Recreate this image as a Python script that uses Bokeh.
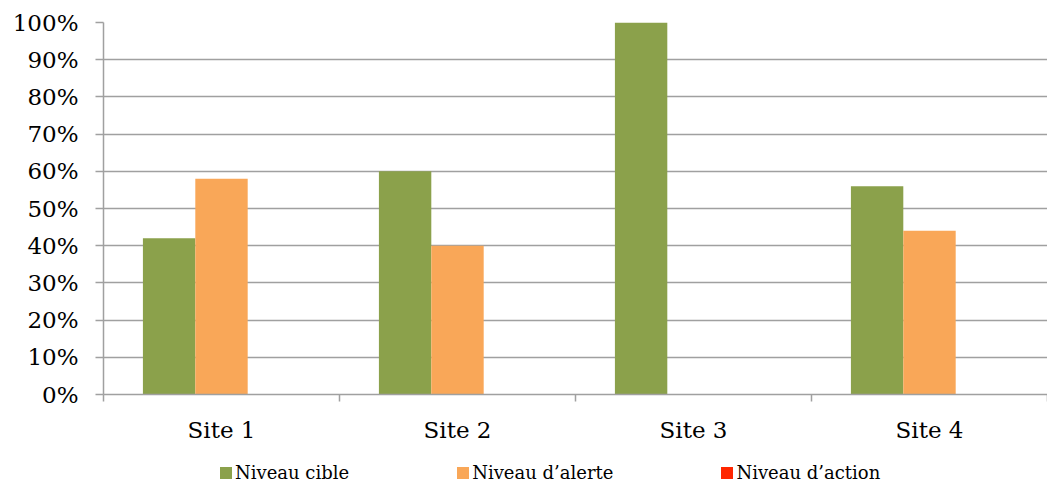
from bokeh.plotting import figure
from bokeh.layouts import column
from bokeh.models import ColumnDataSource, Range1d, FixedTicker, PrintfTickFormatter, Legend, LegendItem
from bokeh.transform import dodge
from bokeh.embed import file_html
from bokeh.resources import INLINE

sites = ["Site 1", "Site 2", "Site 3", "Site 4"]
series = ["Niveau cible", "Niveau d\u2019alerte", "Niveau d\u2019action"]
cible = [42, 60, 100, 56]
alerte = [58, 40, 0, 44]
action = [0, 0, 0, 0]
colors = ["#8BA14B", "#F9A758", "#FF2600"]
y_ticks = [0, 10, 20, 30, 40, 50, 60, 70, 80, 90, 100]

pos = list(range(len(sites)))
src = ColumnDataSource(dict(pos=pos, cible=cible, alerte=alerte, action=action))

p = figure(width=1047, height=446, output_backend="svg", toolbar_location=None,
           x_range=Range1d(-0.5, len(sites) - 0.5), y_range=Range1d(0, 100),
           min_border_top=22, min_border_left=103, min_border_right=0, min_border_bottom=52)
p.outline_line_color = None

bw = 0.222
cols = ["cible", "alerte", "action"]
offs = [-bw, 0, bw]
for c, o, col in zip(cols, offs, colors):
    p.vbar(x=dodge("pos", o), top=c, width=bw, bottom=0, source=src,
           fill_color=col, line_color=None)

# x axis
xa = p.xaxis[0]
xa.ticker = FixedTicker(ticks=pos, minor_ticks=[i - 0.5 for i in range(len(sites) + 1)])
xa.major_label_overrides = {i: s for i, s in zip(pos, sites)}
xa.major_tick_out = 0
xa.major_tick_in = 0
xa.minor_tick_out = 7
xa.minor_tick_in = 0
xa.minor_tick_line_color = "#A0A0A0"
xa.minor_tick_line_width = 1.5
xa.axis_line_color = "#A0A0A0"
xa.axis_line_width = 1.5
xa.major_label_text_font = "DejaVu Serif"
xa.major_label_text_font_size = "23px"
xa.major_label_text_color = "black"
xa.major_label_standoff = 15

# y axis
ya = p.yaxis[0]
ya.ticker = FixedTicker(ticks=y_ticks, minor_ticks=[])
ya.formatter = PrintfTickFormatter(format="%d%%")
ya.major_tick_out = 8
ya.major_tick_in = 0
ya.major_tick_line_color = "#A0A0A0"
ya.major_tick_line_width = 1.5
ya.axis_line_color = "#A0A0A0"
ya.axis_line_width = 1.5
ya.major_label_text_font = "DejaVu Serif"
ya.major_label_text_font_size = "23px"
ya.major_label_text_color = "black"
ya.major_label_standoff = 17

p.xgrid.grid_line_color = None
p.ygrid.ticker = FixedTicker(ticks=y_ticks)
p.ygrid.grid_line_color = "#A0A0A0"
p.ygrid.grid_line_width = 1.5

# legend strip (its renderers use the same data, kept outside the visible range)
p2 = figure(width=1047, height=38, output_backend="svg", toolbar_location=None,
            x_range=Range1d(100, 101), y_range=Range1d(1000, 1001), min_border=0)
p2.axis.visible = False
p2.grid.grid_line_color = None
p2.outline_line_color = None
items = []
for s, c, col in zip(series, cols, colors):
    r = p2.vbar(x="pos", top=c, width=bw, source=src, fill_color=col, line_color=None)
    items.append(LegendItem(label=s, renderers=[r]))

legend = Legend(items=items, orientation="horizontal", location=(115, 1),
                glyph_width=15, glyph_height=15, label_standoff=2, spacing=106,
                label_text_font="DejaVu Serif", label_text_font_size="18px",
                label_text_color="black", border_line_color=None,
                background_fill_alpha=0, padding=2, margin=0)
p2.add_layout(legend, "center")

layout = column(p, p2, spacing=0)
open("out.html", "w").write(file_html(layout, INLINE))
